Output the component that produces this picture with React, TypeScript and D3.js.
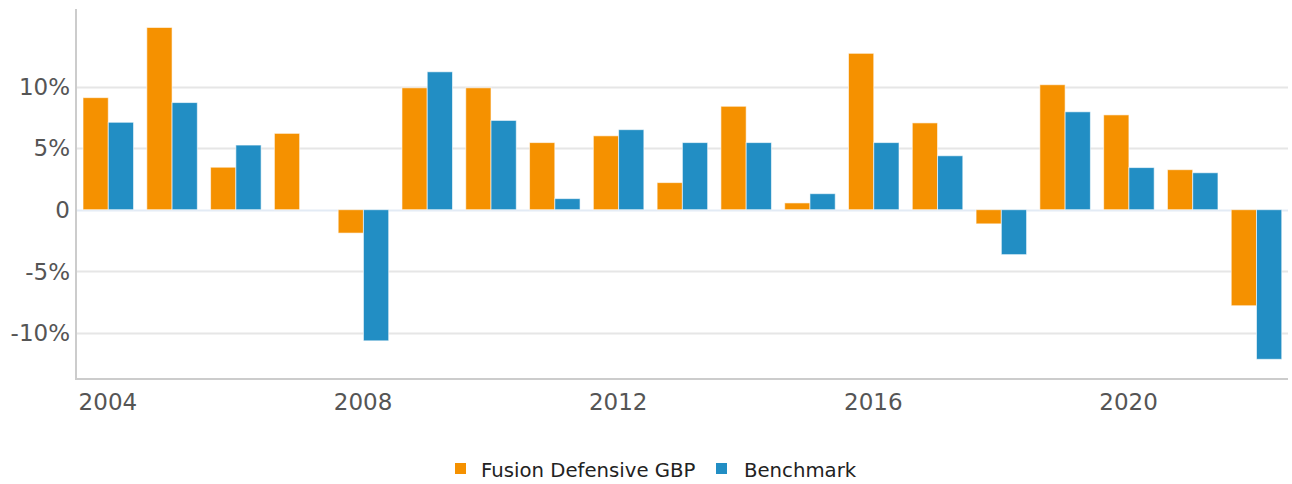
import React, { useEffect } from "react";
import * as d3 from "d3";

const years = [
  "2004", "2005", "2006", "2007", "2008", "2009", "2010", "2011", "2012", "2013",
  "2014", "2015", "2016", "2017", "2018", "2019", "2020", "2021", "2022",
];
const fundValues = [
  9.1, 14.8, 3.45, 6.2, -1.9, 9.9, 9.9, 5.45, 6.0, 2.2,
  8.4, 0.55, 12.7, 7.05, -1.15, 10.15, 7.7, 3.25, -7.8,
];
const benchValues: (number | null)[] = [
  7.1, 8.7, 5.25, null, -10.65, 11.2, 7.25, 0.9, 6.5, 5.45,
  5.45, 1.3, 5.45, 4.38, -3.65, 7.95, 3.42, 3.0, -12.15,
];
const yTicks = [-10, -5, 0, 5, 10];
const xTickLabels = ["2004", "2008", "2012", "2016", "2020"];
const seriesNames = ["Fusion Defensive GBP", "Benchmark"];
const colors = ["#f59100", "#228ec4"];

const width = 1292;
const height = 484;
const plot = { left: 76, right: 1288, top: 9, bottom: 379 };
const font = "'DejaVu Sans', sans-serif";

const App = () => {
  useEffect(() => {
    document.body.style.margin = "0";
  }, []);

  const x = d3.scaleBand<string>().domain(years).range([plot.left, plot.right]).padding(0);
  const y = d3.scaleLinear().domain([-13.75, 16.3]).range([plot.bottom, plot.top]);
  const bw = x.bandwidth();
  const barW = bw * 0.396;
  const offset = bw * 0.11;

  const bar = (v: number | null, i: number, s: number) => {
    if (v === null) return null;
    const x0 = (x(years[i]) as number) + offset + s * barW;
    const y0 = Math.min(y(v), y(0));
    const h = Math.abs(y(v) - y(0));
    return (
      <rect
        key={`${s}-${i}`}
        x={x0}
        y={y0}
        width={barW}
        height={h}
        fill={colors[s]}
        stroke="#ffffff"
        strokeOpacity={0.6}
        strokeWidth={1}
      />
    );
  };

  return (
    <svg width={width} height={height} style={{ display: "block", background: "#fff" }}>
      {yTicks.map((t) => (
        <line
          key={`g${t}`}
          x1={plot.left}
          x2={plot.right}
          y1={Math.round(y(t)) + 0.5}
          y2={Math.round(y(t)) + 0.5}
          stroke={t === 0 ? "#e3ebf5" : "#e6e6e6"}
          strokeWidth={2}
        />
      ))}
      {yTicks.map((t) => (
        <text
          key={`yl${t}`}
          x={70}
          y={y(t)}
          dy="0.36em"
          textAnchor="end"
          fontFamily={font}
          fontSize={23}
          fill="#555555"
        >
          {t === 0 ? "0" : `${t}%`}
        </text>
      ))}
      {fundValues.map((v, i) => bar(v, i, 0))}
      {benchValues.map((v, i) => bar(v, i, 1))}
      <line x1={plot.left} x2={plot.left} y1={plot.top} y2={plot.bottom + 1} stroke="#cccccc" strokeWidth={2} />
      <line x1={plot.left} x2={plot.right} y1={plot.bottom} y2={plot.bottom} stroke="#cccccc" strokeWidth={2} />
      {xTickLabels.map((l) => (
        <text
          key={`xl${l}`}
          x={(x(l) as number) + bw / 2}
          y={410}
          textAnchor="middle"
          fontFamily={font}
          fontSize={23}
          fill="#555555"
        >
          {l}
        </text>
      ))}
      <g fontFamily={font} fontSize={19.7} fill="#222222">
        <rect x={455} y={463} width={11} height={11} fill={colors[0]} />
        <text x={481} y={477}>{seriesNames[0]}</text>
        <rect x={716} y={463} width={11} height={11} fill={colors[1]} />
        <text x={744} y={477}>{seriesNames[1]}</text>
      </g>
    </svg>
  );
};

export default App;
